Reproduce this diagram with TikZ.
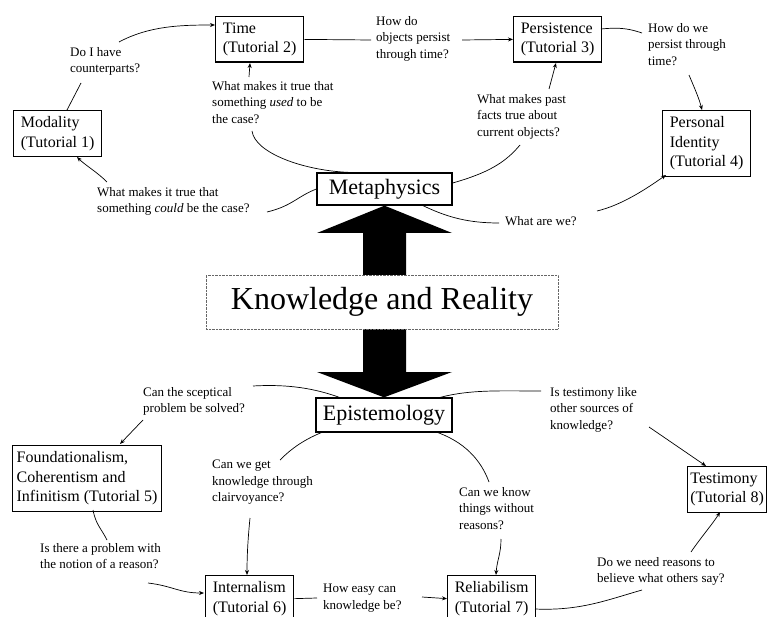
\documentclass[tikz,border=0pt]{standalone}
\usepackage{fontspec}
\setmainfont{Liberation Serif}
\usetikzlibrary{arrows.meta}

\begin{document}
\begin{tikzpicture}
  [x=1pt, y=-1pt,
   topic/.style={draw, line width=1.3pt, anchor=north west, align=left,
     minimum width=88pt, inner xsep=5pt, inner ysep=6pt,
     font=\fontsize{16}{19.5}\selectfont},
   branch/.style={draw, line width=1.3pt, inner sep=0pt,
     font=\fontsize{22}{26}\selectfont},
   question/.style={anchor=north west, align=left, inner sep=0pt,
     font=\fontsize{13}{16.5}\selectfont},
   link/.style={line width=0.7pt},
   >={Stealth[length=5pt,width=4pt]}]
  \useasboundingbox (0,0) rectangle (768,617);

  % the two branches and the double arrow between them
  \node[branch, minimum width=135pt, minimum height=32pt] (meta) at (384.5,189) {Metaphysics};
  \node[branch, minimum width=136pt, minimum height=34pt] (epi) at (384,415) {Epistemology};
  \fill (meta.south) -- (452,233) -- (406,233) -- (406,372) -- (452,372) -- (epi.north)
    -- (317,372) -- (363,372) -- (363,233) -- (317,233) -- cycle;
  \node[draw=black!60, densely dotted, fill=white, minimum width=352pt, minimum height=54pt,
    font=\fontsize{32}{36}\selectfont] (kr) at (382,302) {Knowledge and Reality};

  % tutorials
  \node[topic] (modal) at (13,110) {Modality\\(Tutorial 1)};
  \node[topic] (time) at (215,16) {Time\\(Tutorial 2)};
  \node[topic] (persist) at (513,16) {Persistence\\(Tutorial 3)};
  \node[topic] (person) at (662,110) {Personal\\Identity\\(Tutorial 4)};
  \node[topic, inner xsep=4pt] (found) at (12,445) {Foundationalism,\\Coherentism and\\Infinitism (Tutorial 5)};
  \node[topic] (intern) at (205,575) {Internalism\\(Tutorial 6)};
  \node[topic] (reli) at (447,575) {Reliabilism\\(Tutorial 7)};
  \node[topic, minimum width=79pt, inner xsep=2pt] (testi) at (687,466) {Testimony\\(Tutorial 8)};

  % questions
  \node[question] (cpart) at (70,47) {Do I have\\counterparts?};
  \node[question] (used) at (212,81) {What makes it true that\\something \textit{used} to be\\the case?};
  \node[question] (could) at (97,187) {What makes it true that\\something \textit{could} be the case?};
  \node[question] (persq) at (376,16) {How do\\objects persist\\through time?};
  \node[question] (past) at (477,94) {What makes past\\facts true about\\current objects?};
  \node[question] (wep) at (648,23) {How do we\\persist through\\time?};
  \node[question] (whatwe) at (505,216) {What are we?};
  \node[question] (sceptic) at (143,387) {Can the sceptical\\problem be solved?};
  \node[question] (testlike) at (550,387) {Is testimony like\\other sources of\\knowledge?};
  \node[question] (clair) at (212,460) {Can we get\\knowledge through\\clairvoyance?};
  \node[question] (without) at (459,487) {Can we know\\things without\\reasons?};
  \node[question] (reason) at (40,543) {Is there a problem with\\the notion of a reason?};
  \node[question] (easy) at (323,584) {How easy can\\knowledge be?};
  \node[question] (others) at (597,557) {Do we need reasons to\\believe what others say?};

  % metaphysics links
  \draw[link] ([shift={(54,0)}]modal.north west) -- ([shift={(11,36)}]cpart.north west);
  \draw[link,->] ([shift={(49,-5)}]cpart.north west) .. controls +(30,-16) and +(-35,0) .. ([shift={(0,9)}]time.north west);
  \draw[link] (meta.west) .. controls +(-20,8) and +(25,-6) .. ([shift={(170,25)}]could.north west);
  \draw[link,->] ([shift={(10,-5)}]could.north west) .. controls +(-10,-10) and +(8,8) .. ([shift={(64,47)}]modal.north west);
  \draw[link] ([shift={(-36.5,0)}]meta.north) .. controls +(-45,-2) and +(3,22) .. ([shift={(40,50)}]used.north west);
  \draw[link,->] ([shift={(37,-4)}]used.north west) -- ([shift={(35,47)}]time.north west);
  \draw[link] (time.east) -- ([shift={(-5,24)}]persq.north west);
  \draw[link,->] ([shift={(86,24)}]persq.north west) -- (persist.west);
  \draw[link] ([shift={(0,-6)}]meta.east) .. controls +(35,-10) and +(-15,18) .. ([shift={(43,51)}]past.north west);
  \draw[link,->] ([shift={(72,-5)}]past.north west) -- ([shift={(43,47)}]persist.north west);
  \draw[link] ([shift={(88,13)}]persist.north west) .. controls +(20,-2) and +(-12,-4) .. ([shift={(-6,10)}]wep.north west);
  \draw[link,->] ([shift={(41,52)}]wep.north west) .. controls +(5,12) and +(-3,-12) .. ([shift={(40,0)}]person.north west);
  \draw[link] ([shift={(38.5,0)}]meta.south) .. controls +(25,12) and +(-30,0) .. ([shift={(-6,7)}]whatwe.north west);
  \draw[link,->] ([shift={(92,-5)}]whatwe.north west) .. controls +(25,-6) and +(-20,14) .. ([shift={(4,65)}]person.north west);

  % epistemology links
  \draw[link] ([shift={(24,0)}]epi.north west) .. controls +(-25,-9) and +(35,-2) .. ([shift={(110,-1)}]sceptic.north west);
  \draw[link,->] ([shift={(0,33)}]sceptic.north west) -- ([shift={(108,-1)}]found.north west);
  \draw[link] ([shift={(125,0)}]epi.north west) .. controls +(30,-8) and +(-40,0) .. ([shift={(-9,4)}]testlike.north west);
  \draw[link,->] ([shift={(99,40)}]testlike.north west) -- ([shift={(19,0)}]testi.north west);
  \draw[link] ([shift={(9,34)}]epi.north west) .. controls +(-20,8) and +(12,-12) .. ([shift={(68,0)}]clair.north west);
  \draw[link,->] ([shift={(38,58)}]clair.north west) .. controls +(-2,20) and +(0,-20) .. ([shift={(42,0)}]intern.north west);
  \draw[link] ([shift={(119,34)}]epi.north west) .. controls +(30,10) and +(-8,-22) .. ([shift={(30,-5)}]without.north west);
  \draw[link,->] ([shift={(42,52)}]without.north west) .. controls +(0,15) and +(1,-15) .. ([shift={(49,0)}]reli.north west);
  \draw[link] ([shift={(81,65)}]found.north west) .. controls +(3,15) and +(-6,-12) .. ([shift={(67,-3)}]reason.north west);
  \draw[link,->] ([shift={(108,40)}]reason.north west) .. controls +(25,3) and +(-25,0) .. ([shift={(-1,18)}]intern.north west);
  \draw[link] (intern.east) -- ([shift={(-6,14)}]easy.north west);
  \draw[link,->] ([shift={(99,13)}]easy.north west) -- (reli.west);
  \draw[link] ([shift={(88,34)}]reli.north west) .. controls +(45,2) and +(-35,10) .. ([shift={(45,33)}]others.north west);
  \draw[link,->] ([shift={(94,-5)}]others.north west) .. controls +(8,-12) and +(-6,10) .. ([shift={(33,46)}]testi.north west);
\end{tikzpicture}
\end{document}
